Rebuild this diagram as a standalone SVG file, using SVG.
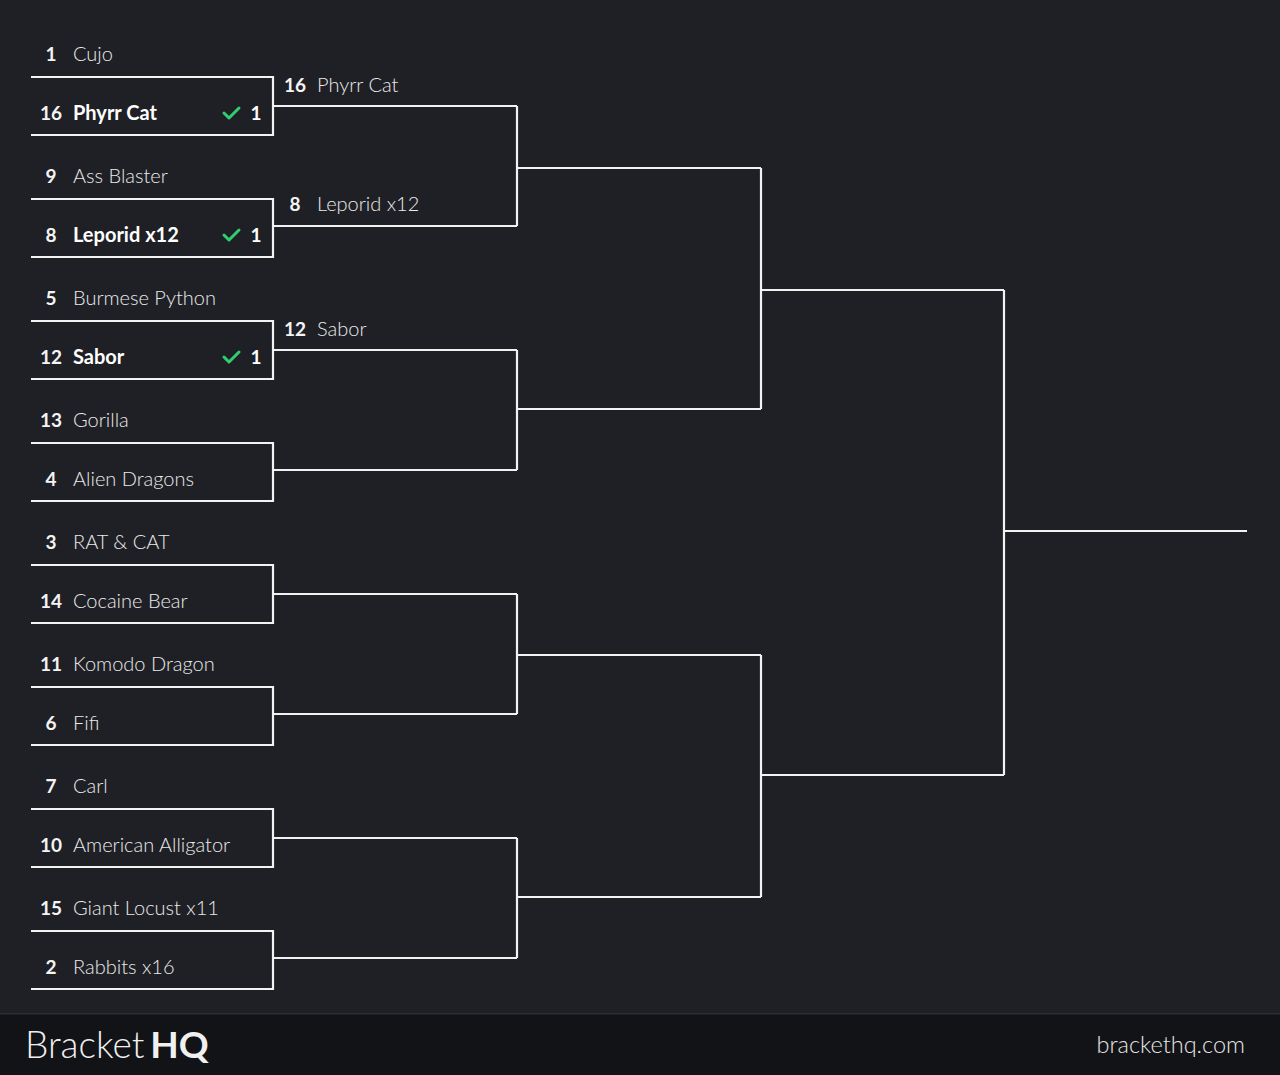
<svg xmlns="http://www.w3.org/2000/svg" width="1280" height="1075" viewBox="0 0 1280 1075">
<style>
  .ln{fill:none;stroke:#f2f2f2;stroke-width:2.2;stroke-linejoin:miter}
  .seed{font-family:Lato,"Noto Sans",sans-serif;font-size:19px;font-weight:700;fill:#f4f4f4;text-anchor:middle}
  .nm{font-family:Lato,"Noto Sans",sans-serif;font-size:20px;font-weight:300;fill:#eaeaea}
  .win{font-family:Lato,"Noto Sans",sans-serif;font-size:20px;font-weight:700;fill:#ffffff}
  .sc{font-family:Lato,"Noto Sans",sans-serif;font-size:19px;font-weight:700;fill:#ffffff;text-anchor:middle}
  .chk{fill:none;stroke:#2fcf6f;stroke-width:3;stroke-linecap:round;stroke-linejoin:round}
</style>
<rect x="0" y="0" width="1280" height="1075" fill="#1f2025"/>
<g id="connectors">
  <path class="ln" d="M273,106 H517 M273,226 H517 M273,350 H517 M273,470 H517 M273,594 H517 M273,714 H517 M273,838 H517 M273,958 H517"/>
  <path class="ln" d="M517,106 V226 M517,350 V470 M517,594 V714 M517,838 V958"/>
  <path class="ln" d="M517,168 H761 M517,409 H761 M517,655 H761 M517,897 H761"/>
  <path class="ln" d="M761,168 V409 M761,655 V897"/>
  <path class="ln" d="M761,290 H1004 M761,775 H1004"/>
  <path class="ln" d="M1004,290 V775 M1004,531 H1247"/>
</g>
<g id="m1">
  <path class="ln" d="M31,77 H273 V135 H31"/>
  <text class="seed" x="51" y="61">1</text><text class="nm" x="73" y="61">Cujo</text>
  <text class="seed" x="51" y="120">16</text><text class="win" x="73" y="120">Phyrr Cat</text>
  <path class="chk" d="M224,113 L229,118 L239,108"/><text class="sc" x="256" y="120">1</text>
</g>
<g id="m2">
  <path class="ln" d="M31,199 H273 V257 H31"/>
  <text class="seed" x="51" y="183">9</text><text class="nm" x="73" y="183">Ass Blaster</text>
  <text class="seed" x="51" y="242">8</text><text class="win" x="73" y="242">Leporid x12</text>
  <path class="chk" d="M224,235 L229,240 L239,230"/><text class="sc" x="256" y="242">1</text>
</g>
<g id="m3">
  <path class="ln" d="M31,321 H273 V379 H31"/>
  <text class="seed" x="51" y="305">5</text><text class="nm" x="73" y="305">Burmese Python</text>
  <text class="seed" x="51" y="364">12</text><text class="win" x="73" y="364">Sabor</text>
  <path class="chk" d="M224,357 L229,362 L239,352"/><text class="sc" x="256" y="364">1</text>
</g>
<g id="m4">
  <path class="ln" d="M31,443 H273 V501 H31"/>
  <text class="seed" x="51" y="427">13</text><text class="nm" x="73" y="427">Gorilla</text>
  <text class="seed" x="51" y="486">4</text><text class="nm" x="73" y="486">Alien Dragons</text>
</g>
<g id="m5">
  <path class="ln" d="M31,565 H273 V623 H31"/>
  <text class="seed" x="51" y="549">3</text><text class="nm" x="73" y="549">RAT &amp; CAT</text>
  <text class="seed" x="51" y="608">14</text><text class="nm" x="73" y="608">Cocaine Bear</text>
</g>
<g id="m6">
  <path class="ln" d="M31,687 H273 V745 H31"/>
  <text class="seed" x="51" y="671">11</text><text class="nm" x="73" y="671">Komodo Dragon</text>
  <text class="seed" x="51" y="730">6</text><text class="nm" x="73" y="730">Fifi</text>
</g>
<g id="m7">
  <path class="ln" d="M31,809 H273 V867 H31"/>
  <text class="seed" x="51" y="793">7</text><text class="nm" x="73" y="793">Carl</text>
  <text class="seed" x="51" y="852">10</text><text class="nm" x="73" y="852">American Alligator</text>
</g>
<g id="m8">
  <path class="ln" d="M31,931 H273 V989 H31"/>
  <text class="seed" x="51" y="915">15</text><text class="nm" x="73" y="915">Giant Locust x11</text>
  <text class="seed" x="51" y="974">2</text><text class="nm" x="73" y="974">Rabbits x16</text>
</g>
<g id="r2-1">
  <text class="seed" x="295" y="92">16</text><text class="nm" x="317" y="92">Phyrr Cat</text>
  <text class="seed" x="295" y="211">8</text><text class="nm" x="317" y="211">Leporid x12</text>
</g>
<g id="r2-2">
  <text class="seed" x="295" y="336">12</text><text class="nm" x="317" y="336">Sabor</text>
</g>
<g id="footer">
  <rect x="0" y="1014" width="1280" height="61" fill="#121317"/>
  <rect x="0" y="1013" width="1280" height="1.5" fill="#2c2d33"/>
  <text x="25" y="1058" font-family="Lato,'Noto Sans',sans-serif" font-size="37" fill="#f0f0f0"><tspan font-weight="300">Bracket</tspan><tspan font-weight="700" dx="-3"> HQ</tspan></text>
  <text x="1245" y="1053" font-family="Lato,'Noto Sans',sans-serif" font-size="23.5" font-weight="300" fill="#e6e6e6" text-anchor="end">brackethq.com</text>
</g>
</svg>
